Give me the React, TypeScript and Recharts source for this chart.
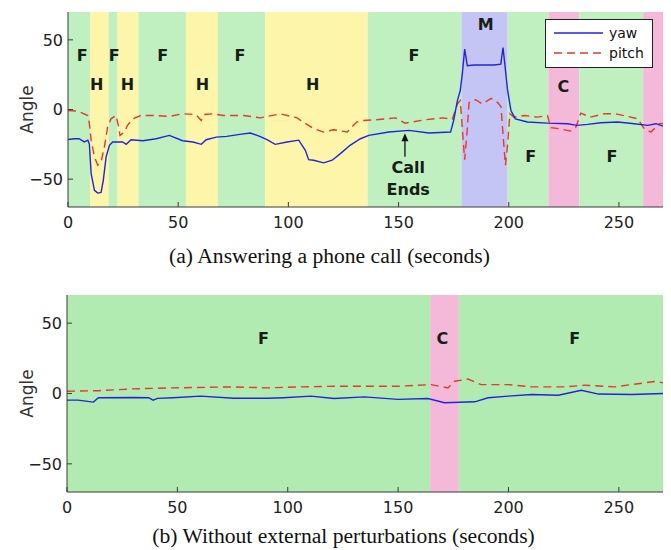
import React from 'react';
import { LineChart, Line, XAxis, YAxis, ReferenceArea, ReferenceDot, ReferenceLine, Legend } from 'recharts';

const xTicks = [0, 50, 100, 150, 200, 250];
const yTicks = [-50, 0, 50];

const seriesNames = ['yaw', 'pitch'];
const seriesColors = ['#2323dc', '#e23a2c'];
const seriesDash = ['', '8 5'];

const kindColorsA: Record<string, string> = { F: '#c0efc0', H: '#fcf5aa', M: '#c5c5f5', C: '#f4b8d8' };
const kindColorsB: Record<string, string> = { F: '#b1ebb1', C: '#f4b8d8' };

// panel (a) bands
const bandsAStart = [0, 10, 18.5, 22.5, 32, 53.5, 68, 89.5, 136, 178.5, 199.5, 218, 232, 261];
const bandsAEnd = [10, 18.5, 22.5, 32, 53.5, 68, 89.5, 136, 178.5, 199.5, 218, 232, 261, 270];
const bandsAKind = ['F', 'H', 'F', 'H', 'F', 'H', 'F', 'H', 'F', 'M', 'F', 'C', 'F', 'C'];

const labelsAText = ['F', 'H', 'F', 'H', 'F', 'H', 'F', 'H', 'F', 'M', 'C', 'F', 'F'];
const labelsAX = [6.4, 13, 21, 27, 43, 61, 78, 111, 157, 189.5, 224.8, 210, 246.8];
const labelsAY = [38.6, 17.9, 38.6, 17.9, 38.6, 17.9, 38.6, 17.9, 38.6, 60.7, 16.4, -33.6, -33.6];

// panel (b) bands
const bandsBStart = [0, 164.5, 177.5];
const bandsBEnd = [164.5, 177.5, 270];
const bandsBKind = ['F', 'C', 'F'];

const labelsBText = ['F', 'C', 'F'];
const labelsBX = [89, 170, 230];
const labelsBY = [39, 39, 39];

// panel (a) series
const yawATime = [0, 3, 5, 7.4, 9, 9.7, 10.5, 12, 13.5, 15, 16, 17.3, 18.8, 20.3, 24.8, 26.4, 28.6, 34, 40, 46, 52, 56.7, 60.5, 62.7, 67.3, 72, 78, 82.7, 87, 90.3, 94, 99.4, 104.7, 107.7, 109.2, 111.5, 116, 119.9, 123.6, 128, 132.7, 136.5, 145.6, 154.7, 163.8, 173.6, 175, 176.7, 178, 179, 180, 181.2, 184.2, 188.8, 193.3, 196.4, 197.4, 198.3, 199.4, 200.6, 201, 203, 208.5, 217.6, 226.7, 231, 235.8, 241.8, 249.4, 257, 263, 266.8, 270];
const yawAValue = [-21.5, -21, -21, -23.3, -22, -24.8, -46, -58, -60, -59.5, -51, -34, -25.7, -23.3, -23.3, -25, -21.7, -22.4, -21, -18.6, -22.4, -23.3, -25, -21.7, -19.8, -19.3, -17.9, -16.9, -19.3, -21.7, -25, -23.3, -22, -29.3, -36, -36.4, -38.3, -36.4, -31.7, -25.7, -21, -18.6, -16.2, -15, -16.9, -16.2, -7.9, 6.4, 13.6, 26.7, 43.3, 31.4, 31.9, 31.9, 32, 32.6, 44.5, 31.4, 14.8, 2.9, -0.7, -6.7, -9, -9.8, -10.2, -11.4, -10.7, -9.5, -9, -10.2, -11.4, -10.2, -12];

const pitchATime = [0, 4.4, 9, 9.7, 10.5, 12, 13.5, 15, 16.5, 18, 19.5, 21.8, 23, 23.6, 25.6, 27, 29.4, 33, 40, 46, 52, 58, 60.5, 62, 65.8, 70.6, 79.7, 87.3, 96.4, 104, 106, 111.5, 116, 120.6, 126.7, 131, 133.5, 139.5, 148.6, 153, 162, 169.9, 174.4, 176.7, 178, 179, 180, 181, 182, 185, 188, 192, 195, 196.5, 197.5, 198.5, 199.5, 200.5, 202.4, 207, 213, 217.6, 219, 222.9, 228, 230.5, 232.7, 237, 243.3, 248.6, 254, 258.5, 261.5, 264.5, 268.3, 270];
const pitchAValue = [-0.7, -1.2, -4.3, -10.2, -22, -34, -40, -37.6, -27, -12.6, -6.7, -4.3, -12.6, -18.6, -16.2, -11.4, -6.7, -4.3, -4.3, -5, -3.1, -3.6, -7.9, -3.6, -3.1, -4.3, -4.3, -6, -3.1, -6, -8.3, -13.8, -16.2, -14.5, -16.2, -9, -7.9, -7.4, -6, -9.8, -7.4, -6, -7, 4, 6.4, -15, -36, -18, 5, 7, 4, 8, 5, 2, -20, -40, -25, -3, -5.5, -4.3, -5.5, -4.3, -13, -13.8, -15.5, -12.6, -2.6, -5.5, -3.1, -3.1, -5, -6.7, -13.8, -16.2, -10.2, -10];

// panel (b) series
const yawBTime = [0, 5, 12, 14.2, 30, 37, 39, 41, 48, 60.5, 75.6, 90.8, 98, 110.5, 121, 134.7, 149.9, 163.5, 171, 184.7, 190.8, 199.9, 210.5, 222.6, 233, 240.8, 255.9, 270];
const yawBValue = [-4.7, -4.7, -6.1, -3, -2.8, -3, -4.7, -3.5, -3, -1.9, -3.4, -3.4, -3, -1.9, -3.6, -2.4, -4.2, -3.6, -6.6, -5.9, -3, -1.9, -0.7, -1.2, 2.3, -0.4, -0.7, 0];

const pitchBTime = [0, 14.2, 30, 48, 75.6, 90.8, 106, 121, 150, 165, 172.6, 175.6, 181.7, 187.6, 200, 210.5, 225.6, 234.5, 248, 267, 270];
const pitchBValue = [1.6, 2, 3.3, 4, 4.7, 4, 4.7, 5.2, 5.2, 6.3, 4, 8.7, 10.3, 6.3, 6.3, 4.7, 4.7, 5.9, 4.7, 8.7, 7.5];

const zip = (ts: number[], vs: number[]) => ts.map((t, i) => ({ t, v: vs[i] }));

const AXIS_COLOR = '#3a3a3a';
const TICK_FONT = { fontSize: 16, fill: '#222', fontFamily: 'DejaVu Sans' };

const LegendBox = () => (
  <div
    style={{
      boxSizing: 'border-box',
      width: 108,
      height: 49,
      background: '#fff',
      border: '1px solid #222',
      fontFamily: 'DejaVu Sans',
      fontSize: 14,
      color: '#111',
      paddingTop: 3,
    }}
  >
    {seriesNames.map((n, i) => (
      <div key={n} style={{ display: 'flex', alignItems: 'center', height: 20 }}>
        <svg width={63} height={20}>
          <line x1={8} x2={57} y1={10} y2={10} stroke={seriesColors[i]} strokeWidth={1.4} strokeDasharray={seriesDash[i] || undefined} />
        </svg>
        <span>{n}</span>
      </div>
    ))}
  </div>
);

const textShape = (txt: string, size: number) => (p: any) => (
  <text
    x={p.cx}
    y={p.cy}
    textAnchor="middle"
    dominantBaseline="central"
    fontFamily="DejaVu Sans"
    fontWeight="bold"
    fontSize={size}
    fill="#161e16"
  >
    {txt}
  </text>
);

const arrowHead = (p: any) => (
  <path d={`M${p.cx},${p.cy} L${p.cx - 3.5},${p.cy + 8} L${p.cx + 3.5},${p.cy + 8} Z`} fill="#111" />
);

type PanelProps = {
  plotTop: number;
  plotHeight: number;
  leftW: number;
  bStart: number[];
  bEnd: number[];
  bKind: string[];
  colors: Record<string, string>;
  lText: string[];
  lX: number[];
  lY: number[];
  yaw: { t: number; v: number }[];
  pitch: { t: number; v: number }[];
  legend?: boolean;
  callEnds?: boolean;
};

function Panel(props: PanelProps) {
  const H = 240;
  return (
    <LineChart width={671} height={H} margin={{ top: props.plotTop, right: 8, left: 0, bottom: 0 }}>
      <XAxis
        type="number"
        dataKey="t"
        domain={[0, 270]}
        ticks={xTicks}
        allowDataOverflow
        height={H - props.plotTop - props.plotHeight}
        tickSize={-5}
        tickMargin={15}
        stroke={AXIS_COLOR}
        tick={TICK_FONT}
      />
      <XAxis
        xAxisId="top"
        orientation="top"
        type="number"
        dataKey="t"
        domain={[0, 270]}
        ticks={xTicks}
        height={0}
        tickSize={-5}
        tick={false}
        stroke={AXIS_COLOR}
      />
      <YAxis
        type="number"
        domain={[-70, 70]}
        ticks={yTicks}
        width={props.leftW}
        tickSize={-5}
        tickMargin={10}
        stroke={AXIS_COLOR}
        tick={TICK_FONT}
        tickFormatter={(v: number) => (v < 0 ? `\u2212${Math.abs(v)}` : `${v}`)}
        label={{
          content: (lp: any) => {
            const vb = lp.viewBox || { x: 0, y: 0, height: 0 };
            const cx = vb.x + 27;
            const cy = vb.y + vb.height / 2;
            return (
              <text
                x={cx}
                y={cy}
                transform={`rotate(-90 ${cx} ${cy})`}
                textAnchor="middle"
                dominantBaseline="central"
                fontFamily="DejaVu Sans"
                fontSize={17}
                fill="#333"
              >
                Angle
              </text>
            );
          },
        }}
      />
      <YAxis
        yAxisId="right"
        orientation="right"
        type="number"
        domain={[-70, 70]}
        ticks={yTicks}
        width={0}
        tickSize={-5}
        tick={false}
        stroke={AXIS_COLOR}
      />
      {props.bStart.map((s, i) => (
        <ReferenceArea
          key={`band${i}`}
          x1={s}
          x2={props.bEnd[i]}
          y1={-70}
          y2={70}
          fill={props.colors[props.bKind[i]]}
          fillOpacity={1}
          stroke="none"
          ifOverflow="hidden"
        />
      ))}
      {props.lText.map((s, i) => (
        <ReferenceDot key={`lab${i}`} x={props.lX[i]} y={props.lY[i]} r={0} shape={textShape(s, 16)} />
      ))}
      {props.callEnds && (
        <ReferenceLine
          segment={[
            { x: 152.9, y: -34 },
            { x: 152.9, y: -20 },
          ]}
          stroke="#111"
          strokeWidth={1.3}
        />
      )}
      {props.callEnds && <ReferenceDot x={152.9} y={-17} r={0} shape={arrowHead} />}
      {props.callEnds && <ReferenceDot x={154.4} y={-41.8} r={0} shape={textShape('Call', 16)} />}
      {props.callEnds && <ReferenceDot x={154.4} y={-57.3} r={0} shape={textShape('Ends', 16)} />}
      <Line
        data={props.pitch}
        dataKey="v"
        name="pitch"
        type="linear"
        stroke={seriesColors[1]}
        strokeWidth={1.4}
        strokeDasharray={seriesDash[1]}
        dot={false}
        activeDot={false}
        isAnimationActive={false}
      />
      <Line
        data={props.yaw}
        dataKey="v"
        name="yaw"
        type="linear"
        stroke={seriesColors[0]}
        strokeWidth={1.4}
        dot={false}
        activeDot={false}
        isAnimationActive={false}
      />
      {props.legend && (
        <Legend
          layout="horizontal"
          verticalAlign="middle"
          align="center"
          content={LegendBox}
          wrapperStyle={{ left: 545, top: 19, width: 108, height: 49 }}
        />
      )}
    </LineChart>
  );
}

const captionStyle: React.CSSProperties = {
  position: 'absolute',
  left: 0,
  width: 671,
  textAlign: 'center',
  fontFamily: '"Liberation Serif", "Times New Roman", serif',
  fontSize: 21.6,
  lineHeight: '22px',
  color: '#111',
  whiteSpace: 'nowrap',
};

export default function App() {
  return (
    <div style={{ position: 'absolute', left: 0, top: 0, width: 671, height: 550, background: '#fff' }}>
      <div style={{ position: 'absolute', left: 0, top: 0 }}>
        <Panel
          plotTop={12}
          plotHeight={195}
          leftW={68}
          bStart={bandsAStart}
          bEnd={bandsAEnd}
          bKind={bandsAKind}
          colors={kindColorsA}
          lText={labelsAText}
          lX={labelsAX}
          lY={labelsAY}
          yaw={zip(yawATime, yawAValue)}
          pitch={zip(pitchATime, pitchAValue)}
          legend
          callEnds
        />
      </div>
      <div style={{ ...captionStyle, top: 245, left: -6 }}>(a) Answering a phone call (seconds)</div>
      <div style={{ position: 'absolute', left: 0, top: 280 }}>
        <Panel
          plotTop={15}
          plotHeight={197}
          leftW={67}
          bStart={bandsBStart}
          bEnd={bandsBEnd}
          bKind={bandsBKind}
          colors={kindColorsB}
          lText={labelsBText}
          lX={labelsBX}
          lY={labelsBY}
          yaw={zip(yawBTime, yawBValue)}
          pitch={zip(pitchBTime, pitchBValue)}
        />
      </div>
      <div style={{ ...captionStyle, top: 525, left: 8 }}>(b) Without external perturbations (seconds)</div>
    </div>
  );
}
